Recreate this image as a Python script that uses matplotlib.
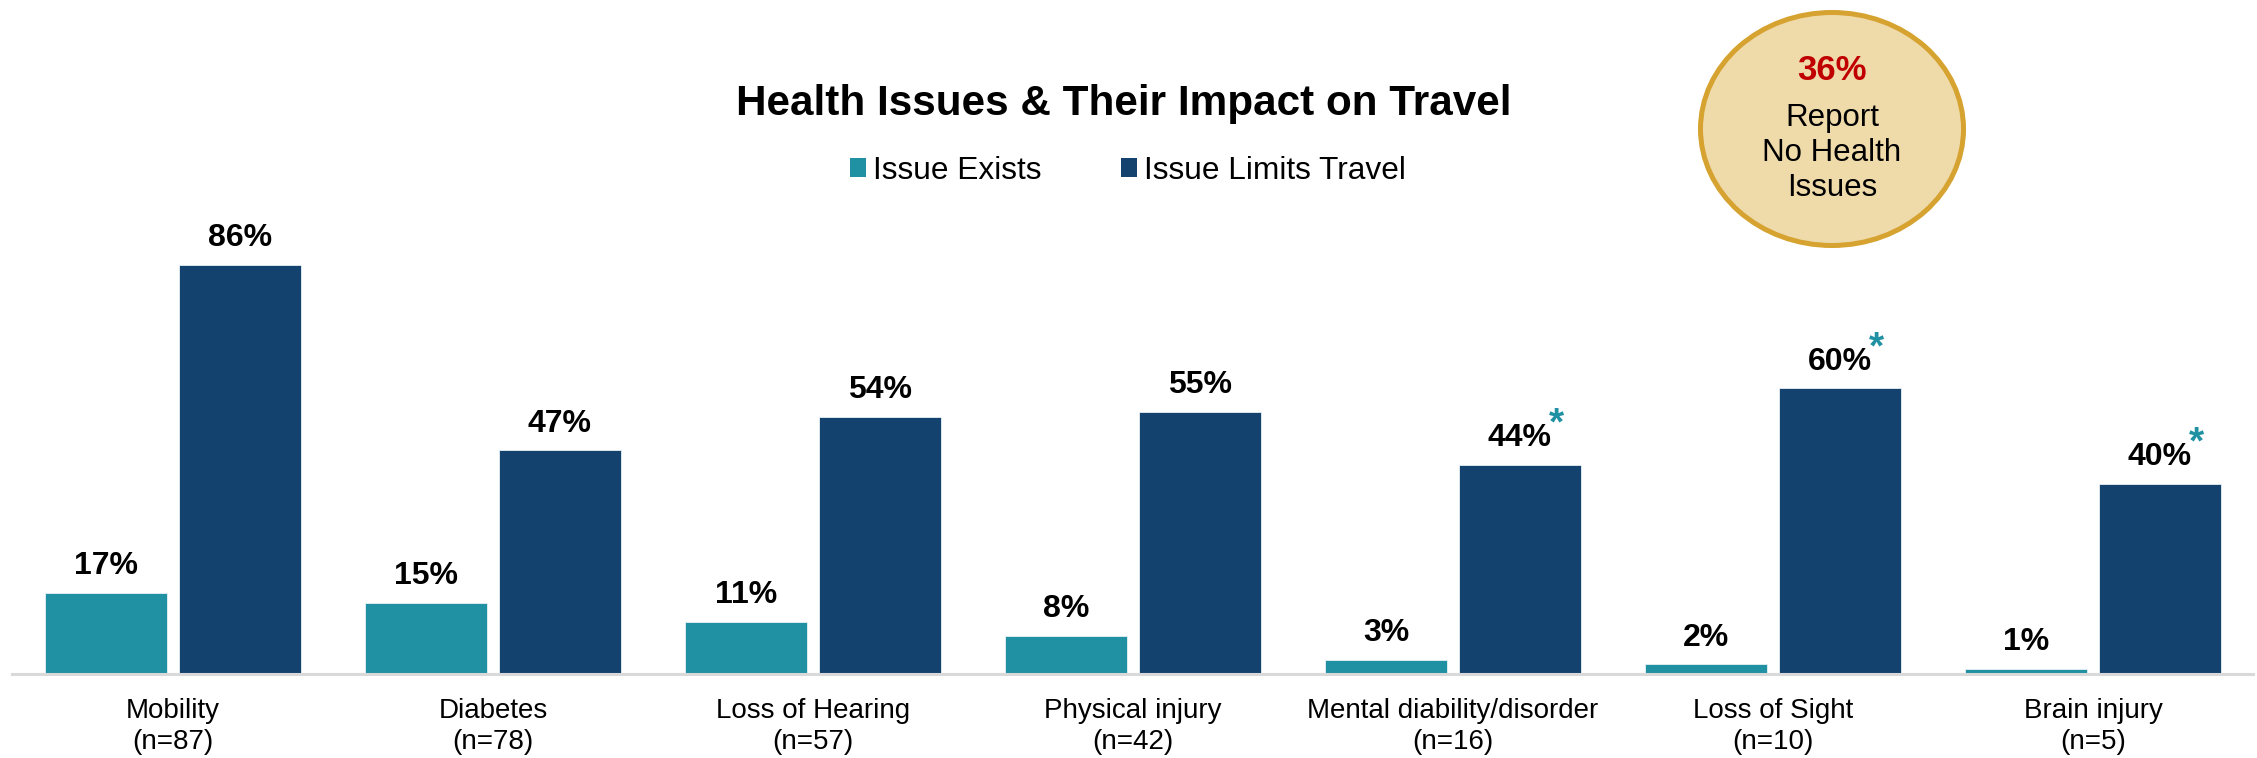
import matplotlib
matplotlib.use("Agg")
import matplotlib.pyplot as plt
import numpy as np
from matplotlib.patches import Ellipse, Patch

plt.rcParams['font.family'] = ['Liberation Sans', 'DejaVu Sans']

# data
categories = ["Mobility", "Diabetes", "Loss of Hearing", "Physical injury",
              "Mental diability/disorder", "Loss of Sight", "Brain injury"]
sample_sizes = [87, 78, 57, 42, 16, 10, 5]
issue_exists = [17, 15, 11, 8, 3, 2, 1]
limits_travel = [86, 47, 54, 55, 44, 60, 40]
small_sample = [False, False, False, False, True, True, True]
no_issues_pct = 36

TEAL = "#1F91A2"
NAVY = "#13426F"

fig = plt.figure(figsize=(22.57, 7.58), dpi=100)
ax = fig.add_axes([12 / 2257, 84 / 758, 2241 / 2257, 476 / 758])

x = np.arange(len(categories))
w = 0.381
off = 0.209
ax.bar(x - off, issue_exists, w, color=TEAL, edgecolor="#E8F1F4", linewidth=0.6)
ax.bar(x + off, limits_travel, w, color=NAVY, edgecolor="#E8F1F4", linewidth=0.6)

ax.set_xlim(-0.503, 6.5)
ax.set_ylim(0, 100)
for s in ["top", "right", "left"]:
    ax.spines[s].set_visible(False)
ax.spines["bottom"].set_color("#D9D9D9")
ax.spines["bottom"].set_linewidth(2.2)
ax.set_yticks([])
ax.set_xticks(x)
ax.set_xticklabels([f"{c}\n(n={n})" for c, n in zip(categories, sample_sizes)],
                   fontsize=20, linespacing=1.25)
ax.tick_params(axis="x", length=0, pad=17)

# value labels (baseline sits a fixed gap above each bar)
for xi, v in zip(x - off, issue_exists):
    ax.annotate(f"{v}%", (xi, v), xytext=(0, 13.5), textcoords="offset points",
                ha="center", va="baseline", fontsize=23, fontweight="bold")
for xi, v, star in zip(x + off, limits_travel, small_sample):
    t = ax.annotate(f"{v}%", (xi, v), xytext=(0, 13.5), textcoords="offset points",
                    ha="center", va="baseline", fontsize=23, fontweight="bold")
    if star:
        ax.annotate("*", xy=(1.0, 0.95), xycoords=t, xytext=(-2, 0),
                    textcoords="offset points", ha="left", va="center",
                    fontsize=28, fontweight="bold", color=TEAL)

fig.text(1124 / 2257, 1 - 104 / 758, "Health Issues & Their Impact on Travel",
         ha="center", va="center", fontsize=30.4, fontweight="bold")

handles = [Patch(facecolor=TEAL, label="Issue Exists"),
           Patch(facecolor=NAVY, label="Issue Limits Travel")]
fig.legend(handles=handles, loc="center", bbox_to_anchor=(1128 / 2257, 1 - 171 / 758),
           ncol=2, frameon=False, fontsize=22.8, handlelength=0.5, handleheight=0.55,
           handletextpad=0.22, columnspacing=2.5, borderpad=0)

# callout bubble
cx, cy = 1832 / 2257, 1 - 129 / 758
ell = Ellipse((cx, cy), 263 / 2257, 233 / 758, transform=fig.transFigure,
              facecolor="#EFDAAA", edgecolor="#D6A230", linewidth=3.6)
fig.add_artist(ell)
fig.text(cx, 1 - 71 / 758, f"{no_issues_pct}%", ha="center", va="center",
         fontsize=25, fontweight="bold", color="#C00000")
fig.text(cx, 1 - 153 / 758, "Report\nNo Health\nIssues", ha="center", va="center",
         fontsize=22.5, linespacing=1.2)

fig.savefig("out.png", dpi=100)
